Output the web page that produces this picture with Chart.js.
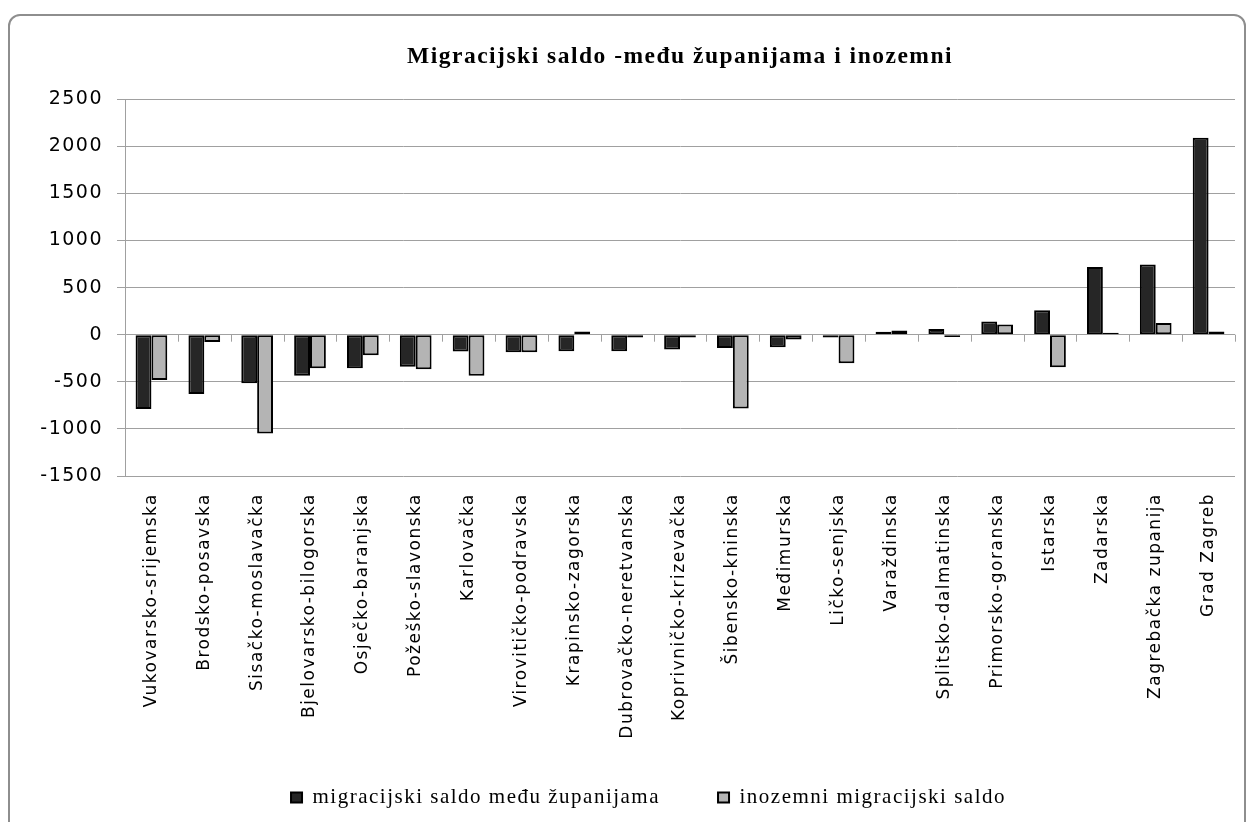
<!DOCTYPE html>
<html>
<head>
<meta charset="utf-8">
<script src="https://cdn.jsdelivr.net/npm/chart.js@4"></script>
<style>
  html,body{margin:0;padding:0;background:#fff;}
  #wrap{position:relative;width:1251px;height:822px;overflow:hidden;}
  #frame{position:absolute;left:8px;top:14px;width:1234px;height:840px;border:2px solid #8e8e8e;border-radius:12px;}
  canvas{position:absolute;left:0;top:0;}
</style>
</head>
<body>
<div id="wrap">
  <div id="frame"></div>
  <canvas id="c" width="1251" height="822"></canvas>
</div>
<script>
// Migracijski saldo po županijama — two series per county.
const COUNTIES = ['Vukovarsko-srijemska','Brodsko-posavska','Sisačko-moslavačka','Bjelovarsko-bilogorska',
  'Osječko-baranjska','Požeško-slavonska','Karlovačka','Virovitičko-podravska','Krapinsko-zagorska',
  'Dubrovačko-neretvanska','Koprivničko-krizevačka','Šibensko-kninska','Međimurska','Ličko-senjska',
  'Varaždinska','Splitsko-dalmatinska','Primorsko-goranska','Istarska','Zadarska','Zagrebačka zupanija','Grad Zagreb'];
const BETWEEN = [-790,-630,-515,-435,-355,-340,-178,-185,-175,-175,-157,-142,-132,-30,30,60,140,260,720,745,2090];
const FOREIGN = [-480,-78,-1050,-357,-217,-367,-435,-185,35,-30,-30,-784,-50,-303,45,-25,108,-345,20,125,35];
const SERIES_NAMES = ['migracijski saldo među županijama','inozemni migracijski saldo'];
const Y_MIN = -1500, Y_MAX = 2500, Y_STEP = 500;

// wide text like the original (letter spacing on the canvas);
// also let tick labels run past their scale boxes
const spacing = {id:'spacing',
  beforeLayout(c){ c.ctx.letterSpacing='1.5px'; },
  beforeDraw(c){
    c.ctx.letterSpacing='1.5px';
    c.scales.x._computeLabelArea=()=>undefined;
    c.scales.y._computeLabelArea=()=>undefined;
  }};

// small tick marks hanging below the zero line, between categories
const zeroTicks = {id:'zeroTicks', beforeDatasetsDraw(c){
  const x=c.scales.x, y=c.scales.y, ctx=c.ctx, y0=y.getPixelForValue(0);
  const w=(x.right-x.left)/COUNTIES.length;
  ctx.save(); ctx.strokeStyle='#a0a0a0'; ctx.lineWidth=1;
  for(let i=0;i<=COUNTIES.length;i++){
    const px=Math.round(x.left+i*w)+0.5;
    ctx.beginPath(); ctx.moveTo(px,y0); ctx.lineTo(px,y0+7); ctx.stroke();
  }
  ctx.restore();
}};

const sans='"DejaVu Sans", sans-serif', serif='"Liberation Serif", "Times New Roman", serif';

new Chart(document.getElementById('c'),{
  type:'bar',
  data:{labels:COUNTIES,datasets:[
    {label:SERIES_NAMES[0],data:BETWEEN,backgroundColor:'#262626',borderColor:'#000',borderWidth:2,borderSkipped:false,
     categoryPercentage:0.6,barPercentage:1.0},
    {label:SERIES_NAMES[1],data:FOREIGN,backgroundColor:'#b4b4b4',borderColor:'#000',borderWidth:2,borderSkipped:false,
     categoryPercentage:0.6,barPercentage:1.0}
  ]},
  options:{responsive:false,animation:false,devicePixelRatio:1,
    layout:{padding:{left:62,right:16,top:0,bottom:4}},
    plugins:{
      title:{display:true,fullSize:false,text:'Migracijski saldo -među županijama i inozemni',color:'#000',
        font:{family:serif,size:23.5,weight:'bold'},padding:{top:43,bottom:28}},
      legend:{position:'bottom',labels:{color:'#000',font:{family:serif,size:21},boxWidth:11,boxHeight:10,
        padding:58,useBorderRadius:false}},
      tooltip:{enabled:false}
    },
    scales:{
      x:{grid:{display:false},border:{display:false},
        ticks:{color:'#000',font:{family:sans,size:17},minRotation:90,maxRotation:90,autoSkip:false,padding:9},
        afterFit(s){ s.height=253; }},
      y:{min:Y_MIN,max:Y_MAX,
        ticks:{stepSize:Y_STEP,color:'#000',font:{family:sans,size:19},padding:14,callback:v=>String(v)},
        grid:{color:'#a0a0a0',lineWidth:1,tickLength:8},
        border:{display:true,color:'#a0a0a0',width:1},
        afterFit(s){ s.width=63; }}
    }
  },
  plugins:[spacing,zeroTicks]
});
</script>
</body>
</html>
